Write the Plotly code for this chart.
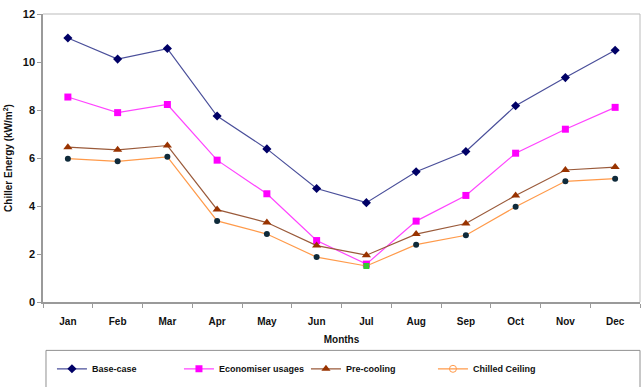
import plotly.graph_objects as go

months = ["Jan", "Feb", "Mar", "Apr", "May", "Jun", "Jul", "Aug", "Sep", "Oct", "Nov", "Dec"]
base_case = [11.0, 10.12, 10.56, 7.75, 6.38, 4.73, 4.14, 5.43, 6.27, 8.18, 9.35, 10.49]
economiser = [8.54, 7.89, 8.23, 5.91, 4.51, 2.56, 1.58, 3.37, 4.44, 6.2, 7.2, 8.11]
pre_cooling = [6.45, 6.34, 6.52, 3.85, 3.31, 2.35, 1.95, 2.83, 3.27, 4.44, 5.5, 5.62]
chilled_ceiling = [5.97, 5.86, 6.05, 3.38, 2.83, 1.87, 1.5, 2.39, 2.78, 3.97, 5.03, 5.14]

FONT = "Liberation Sans, Arial, sans-serif"

fig = go.Figure()

fig.add_trace(go.Scatter(
    x=months, y=base_case, name="Base-case", mode="lines+markers",
    line=dict(color="#4a4f9a", width=1.2),
    marker=dict(symbol="diamond", size=7, color="#000066"),
))
fig.add_trace(go.Scatter(
    x=months, y=economiser, name="Economiser usages", mode="lines+markers",
    line=dict(color="#ff44ff", width=1.2),
    marker=dict(symbol="square", size=7, color="#ff00ff"),
))
fig.add_trace(go.Scatter(
    x=months, y=pre_cooling, name="Pre-cooling", mode="lines+markers",
    line=dict(color="#9a5a3a", width=1.2),
    marker=dict(symbol="triangle-up", size=8, color="#993300"),
))
# Chilled ceiling: dark point markers on an orange line, with the July point highlighted
cc_colors = ["#0f2a3a"] * len(months)
cc_symbols = ["circle"] * len(months)
cc_colors[6] = "#33cc33"
cc_symbols[6] = "square"
fig.add_trace(go.Scatter(
    x=months, y=chilled_ceiling, name="Chilled Ceiling", mode="lines+markers",
    line=dict(color="#ff9a4a", width=1.2),
    marker=dict(symbol=cc_symbols, size=6, color=cc_colors),
    showlegend=False,
))
# legend entry for the chilled ceiling series (open orange circle)
fig.add_trace(go.Scatter(
    x=[None], y=[None], name="Chilled Ceiling", mode="lines+markers",
    line=dict(color="#ff9a4a", width=1.2),
    marker=dict(symbol="circle-open", size=7, color="#ff9a4a"),
))

# legend frame running off the bottom edge
fig.add_shape(type="rect", xref="paper", yref="paper",
              x0=0.005, x1=1.0, y0=-0.30, y1=-0.168,
              line=dict(color="#909090", width=1), fillcolor="rgba(0,0,0,0)")

fig.update_layout(
    width=644, height=387,
    margin=dict(l=43, r=4, t=14, b=82),
    paper_bgcolor="white", plot_bgcolor="white",
    font=dict(family=FONT, size=10, color="#111111", weight="bold"),
    showlegend=True,
    legend=dict(
        orientation="h", x=0.015, xanchor="left", y=-0.232, yanchor="middle",
        font=dict(family=FONT, size=9, color="#111111", weight="bold"),
        entrywidth=82, entrywidthmode="pixels",
        bgcolor="rgba(0,0,0,0)", itemwidth=30,
    ),
    xaxis=dict(
        type="category", range=[-0.5, 11.5], automargin=False,
        showline=True, linecolor="#9a9a9a", linewidth=1.5,
        ticks="outside", tickson="boundaries", ticklen=4, tickcolor="#9a9a9a",
        showgrid=False, mirror=False, ticklabelstandoff=9,
        tickfont=dict(family=FONT, size=10, weight="bold"),
        title=dict(text="Months", standoff=10,
                   font=dict(family=FONT, size=10, weight="bold")),
    ),
    yaxis=dict(
        range=[0, 12], dtick=2, showgrid=False, zeroline=False,
        showline=True, linecolor="#9a9a9a", linewidth=1.5,
        ticks="outside", ticklen=4, tickcolor="#9a9a9a",
        tickfont=dict(family=FONT, size=11, weight="bold"),
        title=dict(text="Chiller Energy (kW/m<sup>2</sup>)", standoff=8,
                   font=dict(family=FONT, size=10, weight="bold")),
    ),
)

# light frame along top and right of the plotting area
fig.add_shape(type="line", xref="paper", yref="paper", x0=0, x1=1, y0=1, y1=1,
              line=dict(color="#bbbbbb", width=1))
fig.add_shape(type="line", xref="paper", yref="paper", x0=1, x1=1, y0=0, y1=1,
              line=dict(color="#bbbbbb", width=1))

fig.write_html("out.html")
